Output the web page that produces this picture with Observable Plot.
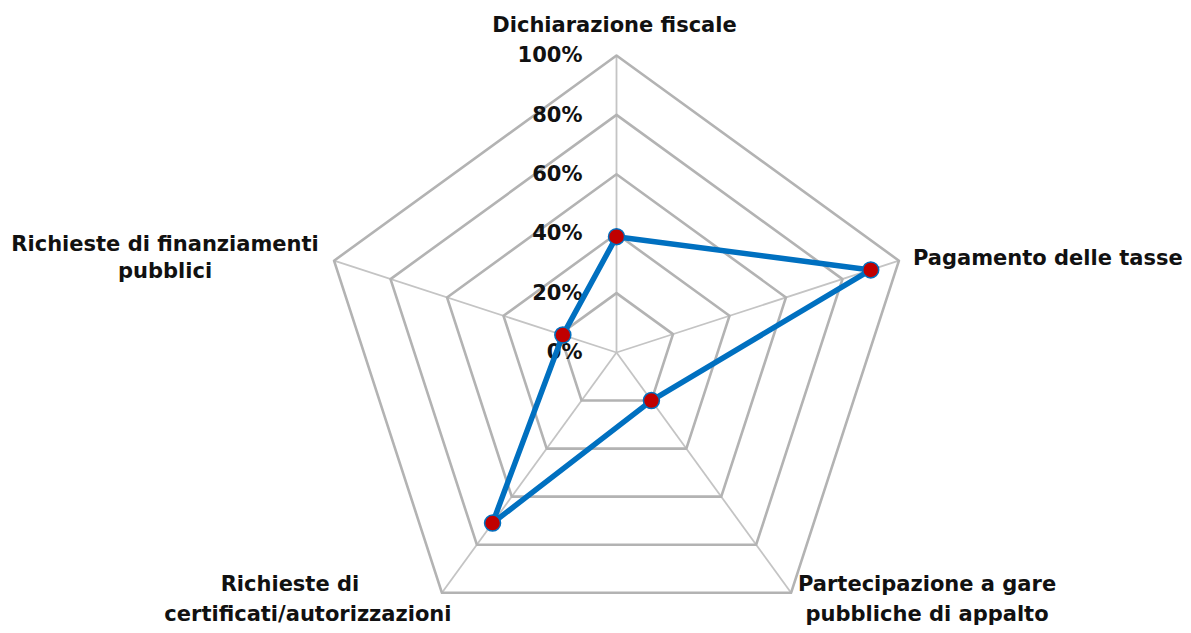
<!DOCTYPE html>
<html><head><meta charset="utf-8">
<script src="https://cdn.jsdelivr.net/npm/d3@7"></script>
<script src="https://cdn.jsdelivr.net/npm/@observablehq/plot@0.6"></script>
<style>html,body{margin:0;padding:0;background:#fff}svg{display:block}</style>
</head><body><div id="chart"></div>
<script>
const categories = ["Dichiarazione fiscale","Pagamento delle tasse","Partecipazione a gare\npubbliche di appalto","Richieste di\ncertificati/autorizzazioni","Richieste di finanziamenti\npubblici"];
const values = [0.39, 0.90, 0.20, 0.71, 0.19];
const tickValues = [0, 0.2, 0.4, 0.6, 0.8, 1];
const tickLabels = ["0%","20%","40%","60%","80%","100%"];

const W = 1191, H = 633, CX = 616, CY = 352, R = 297;
const ang = i => i * 2 * Math.PI / categories.length;
const px = (r, i) => r * Math.sin(ang(i));
const py = (r, i) => r * Math.cos(ang(i));

const rings = tickValues.filter(v => v > 0).flatMap(v => categories.map((c, i) => ({level: v, x: px(v, i), y: py(v, i)})));
const spokes = categories.map((c, i) => ({x1: 0, y1: 0, x2: px(1, i), y2: py(1, i)}));
const pts = categories.map((c, i) => ({cat: c, value: values[i], x: px(values[i], i), y: py(values[i], i)}));

// label placement: pixel offsets from the axis end, per line
const place = [
  {anchor: "middle", lines: [[-2, -30]]},
  {anchor: "start", lines: [[14, -2]]},
  {anchor: "middle", lines: [[136, -9], [136, 21]]},
  {anchor: "middle", lines: [[-152, -9], [-134, 21]]},
  {anchor: "middle", lines: [[-169, -16], [-169, 11]]}
];
const labelRows = categories.flatMap((c, i) => c.split("\n").map((t, j) => ({
  text: t, anchor: place[i].anchor,
  x: px(1, i) + place[i].lines[j][0] / R,
  y: py(1, i) - place[i].lines[j][1] / R
})));

const font = {fontFamily: "DejaVu Sans", fontWeight: "bold", fontSize: 21, fill: "#111"};

const chart = Plot.plot({
  width: W, height: H, margin: 0,
  style: {background: "#fff", overflow: "visible"},
  x: {domain: [-CX / R, (W - CX) / R], range: [0, W], axis: null},
  y: {domain: [-(H - CY) / R, CY / R], range: [H, 0], axis: null},
  marks: [
    Plot.link(spokes, {x1: "x1", y1: "y1", x2: "x2", y2: "y2", stroke: "#c4c4c4", strokeWidth: 1.8}),
    Plot.line(rings, {x: "x", y: "y", z: "level", curve: "linear-closed", stroke: "#b3b3b3", strokeWidth: 2.6}),
    Plot.text(tickValues, {x: d => 0, y: d => d, text: (d, i) => tickLabels[i], textAnchor: "end", dx: -34, ...font}),
    Plot.line(pts, {x: "x", y: "y", curve: "linear-closed", stroke: "#0070C0", strokeWidth: 5.5, strokeLinejoin: "round"}),
    Plot.dot(pts, {x: "x", y: "y", r: 8, fill: "#C00000", stroke: "#0070C0", strokeWidth: 1.5}),
    Plot.text(labelRows.filter(d => d.anchor === "middle"), {x: "x", y: "y", text: "text", textAnchor: "middle", ...font}),
    Plot.text(labelRows.filter(d => d.anchor === "start"), {x: "x", y: "y", text: "text", textAnchor: "start", ...font})
  ]
});
document.getElementById("chart").appendChild(chart);
</script>
</body></html>
